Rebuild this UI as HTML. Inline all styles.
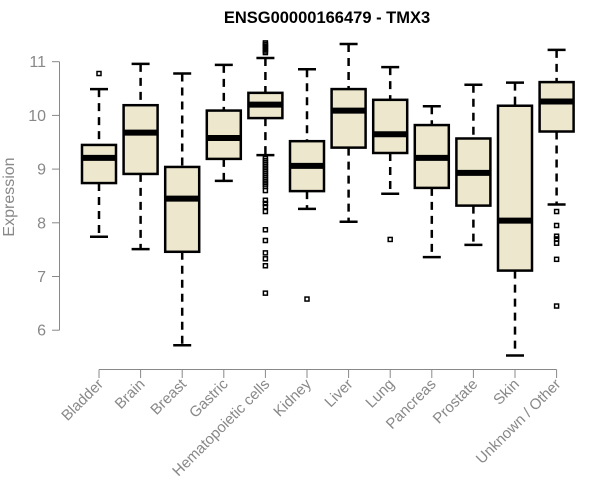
<!DOCTYPE html>
<html><head><meta charset="utf-8"><style>
body{margin:0;background:#fff;}
svg{display:block;font-family:"Liberation Sans",Arial,sans-serif;}
</style></head><body>
<svg id="chart" width="600" height="500" xmlns="http://www.w3.org/2000/svg">
<text x="327" y="23" text-anchor="middle" font-size="16.5" font-weight="bold" fill="#000">ENSG00000166479 - TMX3</text>
<text transform="translate(14,197) rotate(-90)" text-anchor="middle" font-size="16" fill="#888">Expression</text>
<g id="yaxis"></g>
<g id="xaxis"></g>
<g id="boxes"></g>
</svg>
<script>
const categories=["Bladder","Brain","Breast","Gastric","Hematopoietic cells","Kidney","Liver","Lung","Pancreas","Prostate","Skin","Unknown / Other"];
const whiskerLow=[7.74,7.51,5.72,8.78,9.26,8.26,8.02,8.54,7.36,7.59,5.53,8.34];
const q1=[8.74,8.91,7.46,9.19,9.95,8.59,9.40,9.30,8.65,8.32,7.11,9.70];
const median=[9.21,9.68,8.45,9.58,10.20,9.06,10.09,9.65,9.21,8.93,8.04,10.26];
const q3=[9.45,10.19,9.04,10.09,10.42,9.52,10.49,10.29,9.82,9.57,10.18,10.62];
const whiskerHigh=[10.49,10.96,10.78,10.94,11.07,10.86,11.33,10.90,10.17,10.57,10.61,11.22];
const outliers=[[10.78],[],[],[],[11.35,11.32,11.29,11.26,11.23,11.2,11.17,9.2,9.16,9.12,9.08,9.04,9.0,8.96,8.92,8.88,8.84,8.8,8.76,8.72,8.68,8.6,8.42,8.36,8.3,8.21,7.87,7.67,7.44,7.33,7.2,6.69],[6.58],[],[7.69],[],[],[],[8.21,7.95,7.75,7.7,7.62,7.32,6.45]];
const yTicks=[6,7,8,9,10,11];
const NS="http://www.w3.org/2000/svg";
function y(v){return 61.7+(11-v)*53.7;}
function x(i){return 99+i*41.6;}
function mk(t,a,p){const e=document.createElementNS(NS,t);for(const k in a)e.setAttribute(k,a[k]);p.appendChild(e);return e;}
const ya=document.getElementById('yaxis'),xa=document.getElementById('xaxis'),bx=document.getElementById('boxes');
const yl=mk('line',{x1:59.5,x2:59.5,y1:y(11),y2:y(6),stroke:'#888'},ya);

yTicks.forEach(t=>{
  const l=mk('line',{x1:52,x2:59.5,y1:y(t),y2:y(t),stroke:'#888'},ya);
  
  const tx=mk('text',{x:46,y:y(t)+5.5,'text-anchor':'end','font-size':16,fill:'#888'},ya);
  tx.textContent=t;
  
});
const xl=mk('line',{x1:x(0),x2:x(11),y1:369.5,y2:369.5,stroke:'#888'},xa);

categories.forEach((c,i)=>{
  const l=mk('line',{x1:x(i),x2:x(i),y1:369.5,y2:378,stroke:'#888'},xa);
  
  const tx=mk('text',{transform:`translate(${x(i)+5},${385}) rotate(-45)`,'text-anchor':'end','font-size':15,fill:'#888'},xa);
  tx.textContent=c;
  
  const g=mk('g',{},bx);
  
  
  const cx=x(i),hw=17;
  mk('line',{x1:cx,x2:cx,y1:y(whiskerHigh[i]),y2:y(q3[i]),stroke:'#000','stroke-width':2.5,'stroke-dasharray':'8,6'},g);
  mk('line',{x1:cx,x2:cx,y1:y(q1[i]),y2:y(whiskerLow[i]),stroke:'#000','stroke-width':2.5,'stroke-dasharray':'8,6'},g);
  mk('line',{x1:cx-9,x2:cx+9,y1:y(whiskerHigh[i]),y2:y(whiskerHigh[i]),stroke:'#000','stroke-width':2.5},g);
  mk('line',{x1:cx-9,x2:cx+9,y1:y(whiskerLow[i]),y2:y(whiskerLow[i]),stroke:'#000','stroke-width':2.5},g);
  mk('rect',{x:cx-hw,y:y(q3[i]),width:hw*2,height:y(q1[i])-y(q3[i]),fill:'#ede7cd',stroke:'#000','stroke-width':2.5},g);
  mk('line',{x1:cx-hw,x2:cx+hw,y1:y(median[i]),y2:y(median[i]),stroke:'#000','stroke-width':6},g);
  outliers[i].forEach(v=>{
    const o=mk('rect',{x:cx-2,y:y(v)-2,width:4,height:4,fill:'none',stroke:'#000','stroke-width':1.5},g);
    
  });
});
</script>
</body></html>
